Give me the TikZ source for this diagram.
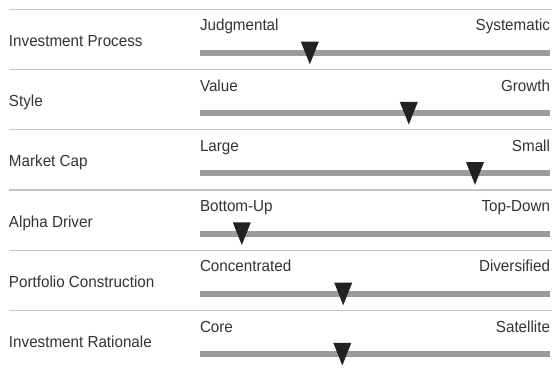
\documentclass[tikz,border=0pt]{standalone}
\usepackage{fontspec}
\setmainfont{Liberation Sans}[FakeStretch=0.95]
\definecolor{sepgray}{HTML}{C4C4C4}
\definecolor{bargray}{HTML}{9C9C9C}
\definecolor{txt}{HTML}{333333}
\definecolor{mark}{HTML}{222222}
\begin{document}
\begin{tikzpicture}[x=1pt,y=-1pt,
  every node/.style={inner sep=0pt,outer sep=0pt,text=txt,font=\fontsize{16}{19}\selectfont},
  sepline/.style={draw=sepgray,line width=1.2pt},
  barline/.style={draw=bargray,line width=6pt},
  marker/.style={fill=mark}]
\useasboundingbox (0,0) rectangle (552,368);
\foreach \i/\lab/\lo/\hi/\pos in {
  0/Investment Process/Judgmental/Systematic/309.8,
  1/Style/Value/Growth/408.8,
  2/Market Cap/Large/Small/475,
  3/Alpha Driver/Bottom-Up/Top-Down/241.8,
  4/Portfolio Construction/Concentrated/Diversified/343.2,
  5/Investment Rationale/Core/Satellite/342.3}{
  \pgfmathsetmacro{\t}{9.3+60.25*\i}
  \coordinate (sl\i) at (9,\t);
  \coordinate (sr\i) at (552,\t);
  \draw[sepline] (sl\i) -- (sr\i);
  \node[anchor=base west] (lab\i) at (9,\t+37) {\lab};
  \node[anchor=base west] (lo\i) at (200,\t+21.5) {\lo};
  \node[anchor=base east] (hi\i) at (550,\t+21.5) {\hi};
  \coordinate (bl\i) at (200,\t+43.6);
  \coordinate (br\i) at (550,\t+43.6);
  \draw[barline] (bl\i) -- (br\i);
  \fill[marker] (\pos-9,\t+32.3) -- (\pos+9,\t+32.3) -- (\pos,\t+55) -- cycle;
}
\end{tikzpicture}
\end{document}
